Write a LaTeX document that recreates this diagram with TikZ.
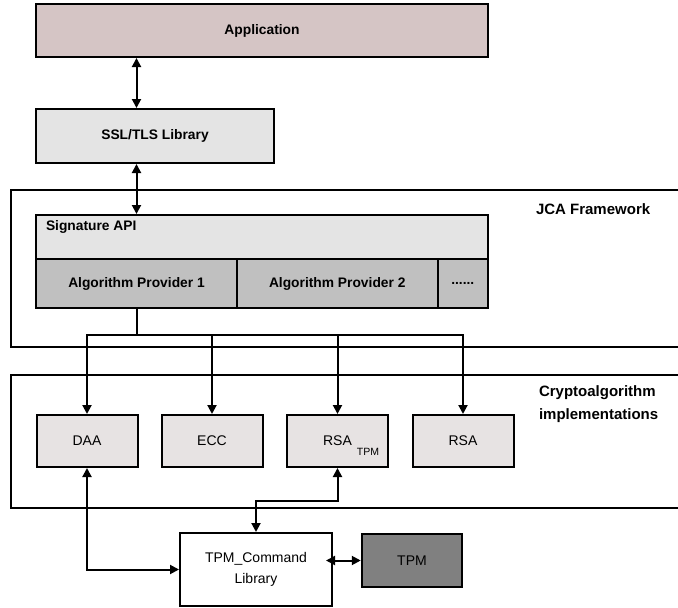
\documentclass[tikz,border=0pt]{standalone}
\usepackage{fontspec}
\setmainfont{Liberation Sans}
\usetikzlibrary{arrows.meta}

\definecolor{appfill}{RGB}{213,197,197}
\definecolor{apifill}{RGB}{228,228,228}
\definecolor{provfill}{RGB}{192,192,192}
\definecolor{implfill}{RGB}{231,227,227}
\definecolor{tpmfill}{RGB}{128,128,128}

\begin{document}
\begin{tikzpicture}[x=1pt,y=-1pt, line width=2pt,
    >={Triangle[length=9pt,width=9pt]},
    layerbox/.style={draw, inner sep=0pt, font=\fontsize{13.8}{16}\selectfont\bfseries},
    implbox/.style={draw, fill=implfill, inner sep=0pt, minimum width=101pt,
        minimum height=52pt, font=\fontsize{14}{17}\selectfont},
    framelabel/.style={anchor=west, align=left, inner sep=0pt,
        font=\fontsize{15}{23}\selectfont\bfseries}]
    \useasboundingbox (0,0) rectangle (678,608);
    \clip (0,0) rectangle (678,608);
    \node[layerbox, fill=appfill, minimum width=452pt, minimum height=53pt] (app) at (262,30.5) {Application};
    \node[layerbox, fill=apifill, minimum width=238.5pt, minimum height=54pt] (ssl) at (155,136) {SSL/TLS Library};
    % JCA framework
    \draw (11,190) rectangle (700,347);
    \node[framelabel] (jca) at (535,209) {JCA Framework};
    \node[layerbox, fill=apifill, minimum width=452pt, minimum height=44pt] (sig) at (262,237) {};
    \node[anchor=west, inner sep=0pt, font=\fontsize{13.8}{16}\selectfont\bfseries] (siglabel) at (45,227) {Signature API};
    \node[layerbox, fill=provfill, minimum width=201pt, minimum height=49pt] (prov1) at (136.5,283.5) {Algorithm Provider 1};
    \node[layerbox, fill=provfill, minimum width=200.5pt, minimum height=49pt] (prov2) at (337.25,283.5) {Algorithm Provider 2};
    \node[layerbox, fill=provfill, minimum width=50.5pt, minimum height=49pt] (more) at (462.75,283.5) {......};
    \draw[<->] (app.south -| prov1) -- (ssl.north -| prov1);
    \draw[<->] (ssl.south -| prov1) -- (sig.north -| prov1);
    % implementations
    \draw (11,375) rectangle (700,508);
    \node[framelabel] (crypto) at (538,404) {Cryptoalgorithm\\implementations};
    \foreach \n/\x/\txt in {daa/87/DAA, ecc/212/ECC,
        rsatpm/337.5/{RSA\rlap{\hspace{5pt}\raisebox{-9.5pt}[0pt][0pt]{\fontsize{10.5}{11}\selectfont TPM}}},
        rsa/463/RSA} {
        \node[implbox] (\n) at (\x,441) {\txt};
    }
    \coordinate (split) at (136.5,335);
    \draw (prov1.south) -- (split);
    \foreach \n in {daa,ecc,rsatpm,rsa}
        \draw[->] (split) -| (\n.north);
    % TPM side
    \node[draw, fill=white, inner sep=0pt, minimum width=152pt, minimum height=73pt,
        align=center, font=\fontsize{14}{21}\selectfont] (cmd) at (256,569.5) {TPM\_Command\\Library};
    \node[draw, fill=tpmfill, inner sep=0pt, minimum width=100.5pt, minimum height=53pt,
        font=\fontsize{14}{17}\selectfont] (tpm) at (412,560.5) {TPM};
    \draw[<->] (daa.south) |- (cmd.west);
    \draw[<->] (rsatpm.south) -- ++(0,33) -| (cmd.north);
    \draw[<->] ([xshift=-7pt]tpm.west -| cmd.east) -- (tpm.west);
\end{tikzpicture}
\end{document}
